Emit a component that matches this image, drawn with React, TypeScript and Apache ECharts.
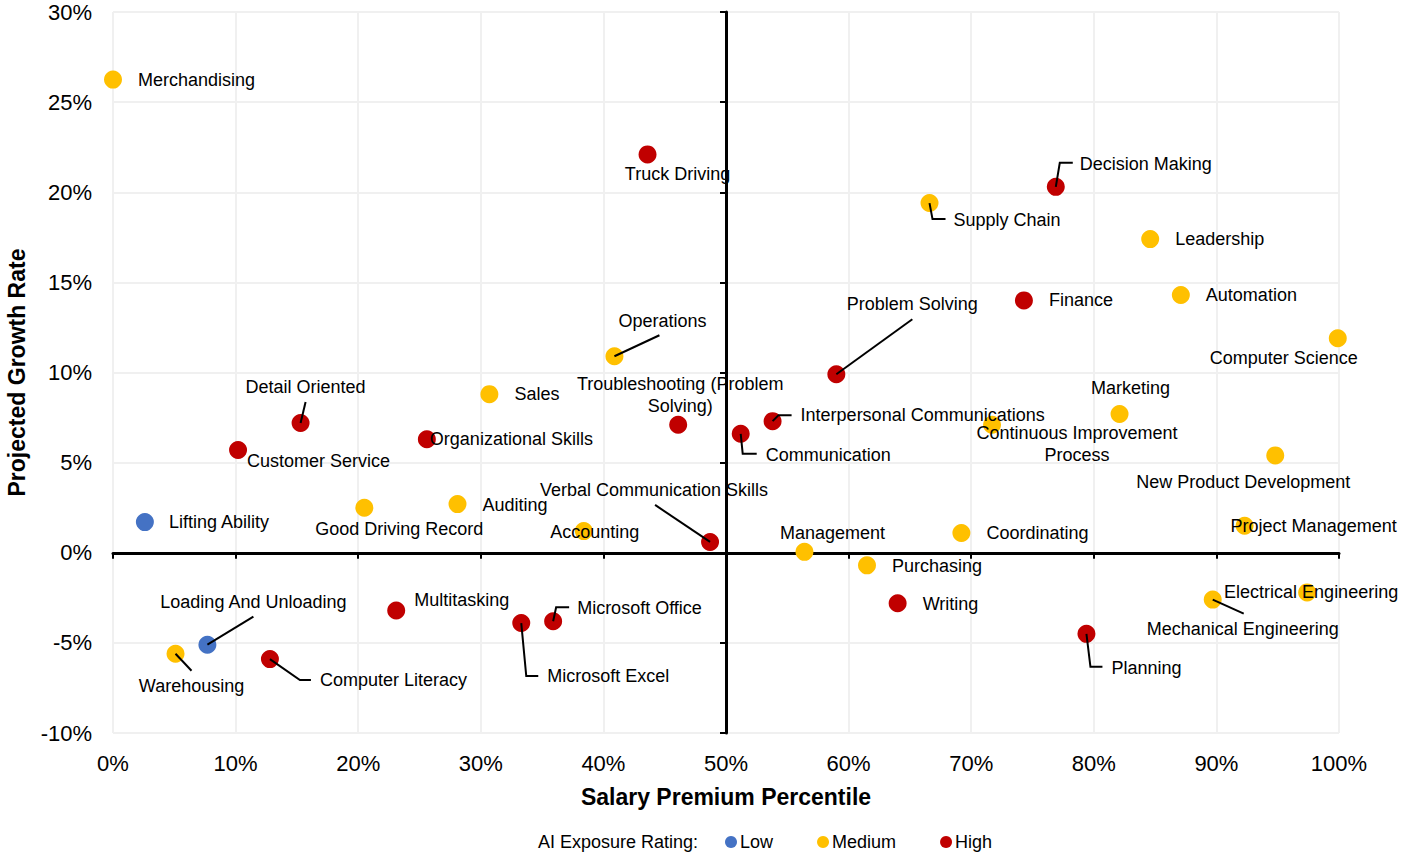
import React, { useEffect, useRef } from "react";
import * as echarts from "echarts";

const FONT = "'Liberation Sans', Arial, sans-serif";

// ---- Data ----
const SKILLS = [
  "Merchandising", "Truck Driving", "Decision Making", "Supply Chain", "Leadership",
  "Finance", "Automation", "Computer Science", "Problem Solving", "Operations",
  "Sales", "Detail Oriented", "Organizational Skills", "Customer Service",
  "Troubleshooting (Problem Solving)", "Communication", "Interpersonal Communications",
  "Continuous Improvement Process", "Marketing", "New Product Development",
  "Lifting Ability", "Good Driving Record", "Auditing", "Accounting",
  "Verbal Communication Skills", "Management", "Coordinating", "Project Management",
  "Purchasing", "Writing", "Electrical Engineering", "Mechanical Engineering",
  "Planning", "Multitasking", "Microsoft Office", "Microsoft Excel",
  "Loading And Unloading", "Warehousing", "Computer Literacy",
];
const SALARY_PCT = [
  0, 43.6, 76.9, 66.6, 84.6,
  74.3, 87.1, 99.9, 59.0, 40.9,
  30.7, 15.3, 25.6, 10.2,
  46.1, 51.2, 53.8,
  71.7, 82.1, 94.8,
  2.6, 20.5, 28.1, 38.4,
  48.7, 56.4, 69.2, 92.3,
  61.5, 64.0, 97.4, 89.7,
  79.4, 23.1, 35.9, 33.3,
  7.7, 5.1, 12.8,
];
const GROWTH_PCT = [
  26.25, 22.1, 20.3, 19.4, 17.4,
  14.0, 14.3, 11.9, 9.9, 10.9,
  8.8, 7.2, 6.3, 5.7,
  7.1, 6.6, 7.3,
  7.1, 7.7, 5.4,
  1.7, 2.5, 2.7, 1.2,
  0.6, 0.05, 1.1, 1.5,
  -0.7, -2.8, -2.2, -2.6,
  -4.5, -3.2, -3.8, -3.9,
  -5.1, -5.6, -5.9,
];
const RATING = [
  "Medium", "High", "High", "Medium", "Medium",
  "High", "Medium", "Medium", "High", "Medium",
  "Medium", "High", "High", "High",
  "High", "High", "High",
  "Medium", "Medium", "Medium",
  "Low", "Medium", "Medium", "Medium",
  "High", "Medium", "Medium", "Medium",
  "Medium", "High", "Medium", "Medium",
  "High", "High", "High", "High",
  "Low", "Medium", "High",
];
const RATINGS = ["Low", "Medium", "High"];
const RATING_COLORS = ["#4472c4", "#ffc000", "#c00000"];

const QUADRANT_NAMES = ["Disruptors", "Escalators", "Stabilizers", "Challengers"];
const QUADRANT_X = [66.8, 19.7, 22.6, 67.5];
const QUADRANT_Y = [26.25, 21.0, -4.83, -4.83];

const X_TICKS = { min: 0, max: 100, interval: 10 };
const Y_TICKS = { min: -10, max: 30, interval: 5 };

// ---- Label layout (pixel offsets of label from its point) ----
type LL = { dx: number; dy: number; align: "left" | "center"; text?: string };
const LABEL_LAYOUT: Record<string, LL> = {
  "Merchandising": { dx: 25, dy: 0, align: "left" },
  "Truck Driving": { dx: 30, dy: 20, align: "center" },
  "Decision Making": { dx: 24, dy: -23, align: "left" },
  "Supply Chain": { dx: 24, dy: 17, align: "left" },
  "Leadership": { dx: 25, dy: 0, align: "left" },
  "Finance": { dx: 25, dy: 0, align: "left" },
  "Automation": { dx: 25, dy: 0, align: "left" },
  "Computer Science": { dx: -54, dy: 20, align: "center" },
  "Problem Solving": { dx: 76, dy: -70, align: "center" },
  "Operations": { dx: 48, dy: -35, align: "center" },
  "Sales": { dx: 25, dy: 0, align: "left" },
  "Detail Oriented": { dx: 5, dy: -36, align: "center" },
  "Organizational Skills": { dx: 3, dy: 0, align: "left" },
  "Customer Service": { dx: 9, dy: 11, align: "left" },
  "Troubleshooting (Problem Solving)": { dx: 2, dy: -30, align: "center", text: "Troubleshooting (Problem\nSolving)" },
  "Communication": { dx: 25, dy: 21, align: "left" },
  "Interpersonal Communications": { dx: 28, dy: -6, align: "left" },
  "Continuous Improvement Process": { dx: 85, dy: 19, align: "center", text: "Continuous Improvement\nProcess" },
  "Marketing": { dx: 11, dy: -26, align: "center" },
  "New Product Development": { dx: -32, dy: 27, align: "center" },
  "Lifting Ability": { dx: 24, dy: 0, align: "left" },
  "Good Driving Record": { dx: 35, dy: 21, align: "center" },
  "Auditing": { dx: 25, dy: 1, align: "left" },
  "Accounting": { dx: 11, dy: 1, align: "center" },
  "Verbal Communication Skills": { dx: -56, dy: -52, align: "center" },
  "Management": { dx: 28, dy: -19, align: "center" },
  "Coordinating": { dx: 25, dy: 0, align: "left" },
  "Project Management": { dx: -14, dy: 0, align: "left" },
  "Purchasing": { dx: 25, dy: 1, align: "left" },
  "Writing": { dx: 25, dy: 1, align: "left" },
  "Electrical Engineering": { dx: 4, dy: 0, align: "center" },
  "Mechanical Engineering": { dx: 30, dy: 29, align: "center" },
  "Planning": { dx: 25, dy: 34, align: "left" },
  "Multitasking": { dx: 18, dy: -10, align: "left" },
  "Microsoft Office": { dx: 24, dy: -13, align: "left" },
  "Microsoft Excel": { dx: 26, dy: 53, align: "left" },
  "Loading And Unloading": { dx: 46, dy: -43, align: "center" },
  "Warehousing": { dx: 16, dy: 32, align: "center" },
  "Computer Literacy": { dx: 50, dy: 21, align: "left" },
};

// leader-line vertices, pixel offsets from the point centre
const LEADERS: Record<string, number[][]> = {
  "Decision Making": [[0, 0], [4, -24], [17, -24]],
  "Supply Chain": [[0, 0], [3, 16], [16, 16]],
  "Problem Solving": [[0, 0], [76, -55]],
  "Operations": [[0, 0], [45, -21]],
  "Detail Oriented": [[0, 0], [5, -21]],
  "Communication": [[0, 0], [2, 20], [16, 20]],
  "Interpersonal Communications": [[0, 0], [6, -6], [19, -6]],
  "Verbal Communication Skills": [[0, 0], [-55, -37]],
  "Mechanical Engineering": [[0, 0], [31, 14]],
  "Planning": [[0, 0], [4, 33], [16, 33]],
  "Microsoft Office": [[0, 0], [3, -14], [16, -14]],
  "Microsoft Excel": [[0, 0], [5, 53], [17, 53]],
  "Loading And Unloading": [[0, 0], [46, -28]],
  "Warehousing": [[0, 0], [16, 17]],
  "Computer Literacy": [[0, 0], [30, 21], [41, 21]],
};

export default function App() {
  const ref = useRef<HTMLDivElement>(null);

  useEffect(() => {
    if (!ref.current) return;
    const chart = echarts.init(ref.current, null, { renderer: "svg" });

    const scatterSeries = RATINGS.map((r, ri) => ({
      type: "scatter",
      name: r,
      xAxisIndex: 0,
      yAxisIndex: 0,
      symbol: "circle",
      symbolSize: 18,
      z: 3,
      itemStyle: { color: RATING_COLORS[ri], opacity: 1 },
      label: {
        show: true,
        position: "inside",
        verticalAlign: "middle",
        fontSize: 18,
        lineHeight: 22,
        color: "#000",
        fontFamily: FONT,
        formatter: (p: any) => LABEL_LAYOUT[p.name]?.text ?? p.name,
      },
      emphasis: { disabled: true },
      data: SKILLS.map((s, i) => ({ s, i }))
        .filter(({ i }) => RATING[i] === r)
        .map(({ s, i }) => {
          const L = LABEL_LAYOUT[s];
          return {
            name: s,
            value: [SALARY_PCT[i], GROWTH_PCT[i]],
            label: { align: L.align, offset: [L.dx, L.dy] },
          };
        }),
    }));

    const leaderNames = SKILLS.filter((s) => LEADERS[s]);
    const leaderSeries = {
      type: "custom",
      name: "leaders",
      xAxisIndex: 0,
      yAxisIndex: 0,
      z: 5,
      silent: true,
      encode: { x: 0, y: 1 },
      data: leaderNames.map((s) => {
        const i = SKILLS.indexOf(s);
        return [SALARY_PCT[i], GROWTH_PCT[i]];
      }),
      renderItem: (params: any, api: any) => {
        const name = leaderNames[params.dataIndex];
        const p = api.coord([api.value(0), api.value(1)]);
        const pts = LEADERS[name].map(([dx, dy]) => [p[0] + dx, p[1] + dy]);
        return {
          type: "polyline",
          shape: { points: pts },
          style: { stroke: "#000", lineWidth: 2, fill: null },
        };
      },
    };

    const quadrantSeries = {
      type: "scatter",
      name: "quadrants",
      xAxisIndex: 0,
      yAxisIndex: 0,
      symbolSize: 1,
      itemStyle: { opacity: 0 },
      silent: true,
      z: 1,
      label: {
        show: true,
        position: "inside",
        formatter: "{b}",
        fontSize: 26,
        fontWeight: "bold",
        color: "#f0506e",
        fontFamily: FONT,
      },
      data: QUADRANT_NAMES.map((n, i) => ({ name: n, value: [QUADRANT_X[i], QUADRANT_Y[i]] })),
    };

    const lightSplit = { show: true, lineStyle: { color: "#f0f0f0", width: 2 } };

    chart.setOption({
      animation: false,
      textStyle: { fontFamily: FONT },
      grid: { left: 113, right: 64, top: 12, bottom: 121, outerBoundsMode: "none", containLabel: false },
      legend: {
        data: RATINGS,
        left: 720,
        top: 828,
        icon: "circle",
        itemWidth: 12,
        itemHeight: 12,
        itemGap: 44,
        selectedMode: false,
        textStyle: { fontSize: 18, color: "#000", fontFamily: FONT, padding: [0, 0, 0, -2] },
      },
      graphic: [
        {
          type: "text",
          left: 538,
          top: 833,
          style: { text: "AI Exposure Rating:", font: `18px ${FONT}`, fill: "#000" },
        },
      ],
      xAxis: [
        {
          type: "value",
          ...X_TICKS,
          position: "bottom",
          axisLine: { show: false, onZero: false },
          axisTick: { show: false },
          axisLabel: { formatter: "{value}%", fontSize: 22, color: "#000", margin: 19, fontFamily: FONT },
          splitLine: lightSplit,
          name: "Salary Premium Percentile",
          nameLocation: "middle",
          nameGap: 52,
          nameTextStyle: { fontSize: 23, fontWeight: "bold", color: "#000", fontFamily: FONT },
        },
        {
          type: "value",
          ...X_TICKS,
          position: "bottom",
          axisLine: { show: true, onZero: true, onZeroAxisIndex: 0, lineStyle: { color: "#000", width: 3 } },
          axisTick: { show: true, length: 6, lineStyle: { color: "#000", width: 2 } },
          axisLabel: { show: false },
          splitLine: { show: false },
        },
        { type: "value", min: -50, max: 50, show: false, axisLine: { onZero: false } },
      ],
      yAxis: [
        {
          type: "value",
          ...Y_TICKS,
          position: "left",
          axisLine: { show: false, onZero: false },
          axisTick: { show: false },
          axisLabel: { formatter: "{value}%", fontSize: 22, color: "#000", margin: 21, fontFamily: FONT },
          splitLine: lightSplit,
          name: "Projected Growth Rate",
          nameLocation: "middle",
          nameRotate: 90,
          nameGap: 85,
          nameTextStyle: { fontSize: 23, fontWeight: "bold", color: "#000", fontFamily: FONT },
        },
        {
          type: "value",
          ...Y_TICKS,
          position: "left",
          axisLine: { show: true, onZero: true, onZeroAxisIndex: 2, lineStyle: { color: "#000", width: 3 } },
          axisTick: { show: true, length: 6, lineStyle: { color: "#000", width: 2 } },
          axisLabel: { show: false },
          splitLine: { show: false },
        },
      ],
      series: [quadrantSeries, ...scatterSeries, leaderSeries],
    });

    return () => chart.dispose();
  }, []);

  return (
    <div
      ref={ref}
      style={{ position: "fixed", left: 0, top: 0, width: 1403, height: 854, background: "#fff" }}
    />
  );
}
